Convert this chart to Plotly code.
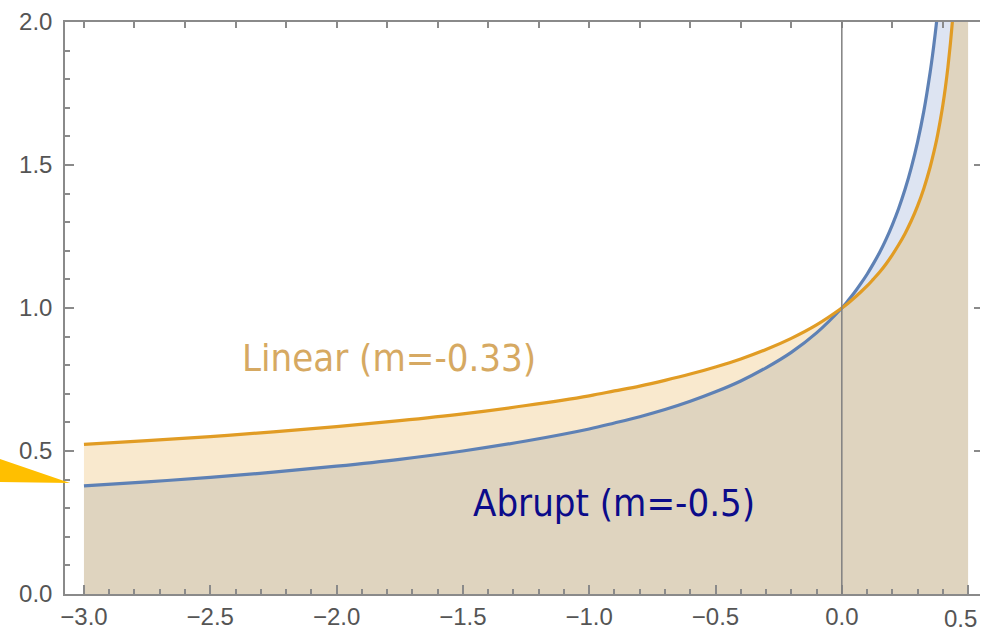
import plotly.graph_objects as go
import numpy as np

# sampled x positions
x = [-3.0, -2.75, -2.5, -2.25, -2.0, -1.75, -1.5, -1.25, -1.0, -0.9, -0.8, -0.7,
     -0.6, -0.5, -0.4, -0.3, -0.2, -0.1, 0.0, 0.025, 0.05, 0.075, 0.1, 0.125,
     0.15, 0.175, 0.2, 0.225, 0.25, 0.275, 0.3, 0.325, 0.35, 0.36, 0.37, 0.375,
     0.38, 0.39, 0.4, 0.41, 0.42, 0.43, 0.44, 0.45, 0.46, 0.47, 0.48, 0.49, 0.4999]

# Abrupt (m=-0.5)
abrupt = [0.378, 0.392, 0.408, 0.426, 0.447, 0.471, 0.5, 0.535, 0.577, 0.598, 0.620, 0.645,
          0.674, 0.707, 0.745, 0.791, 0.845, 0.913, 1.0, 1.026, 1.054, 1.085, 1.118, 1.155,
          1.195, 1.240, 1.291, 1.348, 1.414, 1.491, 1.581, 1.690, 1.826, 1.890, 1.961, 2.0,
          2.041, 2.132, 2.236, 2.357, 2.5, 2.673, 2.887, 3.162, 3.536, 4.082, 5.0, 7.071, 70.7]

# Linear (m=-0.33)
linear = [0.523, 0.536, 0.550, 0.567, 0.585, 0.606, 0.630, 0.659, 0.693, 0.710, 0.727, 0.747,
          0.769, 0.794, 0.822, 0.855, 0.894, 0.941, 1.0, 1.017, 1.036, 1.056, 1.077, 1.101,
          1.126, 1.154, 1.186, 1.221, 1.260, 1.305, 1.357, 1.419, 1.494, 1.529, 1.567, 1.587,
          1.609, 1.657, 1.710, 1.771, 1.842, 1.926, 2.027, 2.154, 2.321, 2.554, 2.924, 3.684, 17.1]

x_ticks = [-3.0, -2.5, -2.0, -1.5, -1.0, -0.5, 0.0, 0.5]
x_tick_labels = ["−3.0", "−2.5", "−2.0", "−1.5", "−1.0", "−0.5", "0.0", ""]
last_x_label = "0.5"  # drawn as an annotation so it stays inside the page
y_ticks = [0.0, 0.5, 1.0, 1.5, 2.0]
y_tick_labels = ["0.0", "0.5", "1.0", "1.5", "2.0"]

BLUE = "#5e81b5"
ORANGE = "#e19c24"
TAN = "#dfd4bf"
LIGHT_ORANGE = "#f9e9ce"
LIGHT_BLUE = "#dde4f2"

lower = list(np.minimum(np.array(abrupt), np.array(linear)))
n_line = len(x) - 1  # curves drawn up to the last finite sample

fig = go.Figure()
fig.add_trace(go.Scatter(x=x, y=lower, mode="lines", line=dict(width=0),
                         fill="tozeroy", fillcolor=TAN, hoverinfo="skip", showlegend=False))
fig.add_trace(go.Scatter(x=x, y=linear, mode="lines", line=dict(width=0),
                         fill="tonexty", fillcolor=LIGHT_ORANGE, hoverinfo="skip", showlegend=False))
fig.add_trace(go.Scatter(x=x, y=lower, mode="lines", line=dict(width=0),
                         hoverinfo="skip", showlegend=False))
fig.add_trace(go.Scatter(x=x, y=abrupt, mode="lines", line=dict(width=0),
                         fill="tonexty", fillcolor=LIGHT_BLUE, hoverinfo="skip", showlegend=False))
fig.add_trace(go.Scatter(x=x[:n_line], y=abrupt[:n_line], mode="lines",
                         line=dict(color=BLUE, width=3.2, shape="spline", smoothing=1),
                         name="Abrupt", showlegend=False))
fig.add_trace(go.Scatter(x=x[:n_line], y=linear[:n_line], mode="lines",
                         line=dict(color=ORANGE, width=3.2, shape="spline", smoothing=1),
                         name="Linear", showlegend=False))
# helper trace for top / right frame ticks
fig.add_trace(go.Scatter(x=[x[0]], y=[y_ticks[0]], xaxis="x2", yaxis="y2", mode="markers",
                         marker=dict(opacity=0), hoverinfo="skip", showlegend=False))

FRAME = "#8a8a8a"
tickfont = dict(family="Liberation Sans, Arial, sans-serif", size=24, color="#555555")
xr = [-3.075, 0.547]
yr = [0, 2]

fig.update_layout(
    width=981, height=629,
    margin=dict(l=65, r=1, t=22, b=35, autoexpand=False),
    paper_bgcolor="white", plot_bgcolor="white",
    xaxis=dict(range=xr, tickvals=x_ticks, ticktext=x_tick_labels, automargin=False,
               ticks="inside", ticklen=9, tickwidth=1.5, tickcolor=FRAME,
               showline=True, linecolor=FRAME, linewidth=1.5, mirror=True,
               showgrid=False, zeroline=False, tickfont=tickfont, ticklabelstandoff=0,
               ticklabeloverflow="allow",
               minor=dict(dtick=0.1, tick0=0, ticks="inside", ticklen=5.5, tickwidth=1.5, tickcolor=FRAME),
               layer="above traces"),
    yaxis=dict(range=yr, tickvals=y_ticks, ticktext=y_tick_labels, automargin=False,
               ticks="inside", ticklen=9, tickwidth=1.5, tickcolor=FRAME,
               showline=True, linecolor=FRAME, linewidth=1.5, mirror=False,
               showgrid=False, zeroline=False, tickfont=tickfont, ticklabelstandoff=6,
               ticklabeloverflow="allow",
               minor=dict(dtick=0.1, tick0=0, ticks="inside", ticklen=5.5, tickwidth=1.5, tickcolor=FRAME),
               layer="above traces"),
    xaxis2=dict(range=xr, overlaying="x", side="top", anchor="y2", dtick=0.2, tick0=0,
                automargin=False, ticks="inside", ticklen=6, tickwidth=1.5, tickcolor=FRAME,
                showticklabels=False, showline=False, showgrid=False, zeroline=False),
    yaxis2=dict(range=yr, overlaying="y", side="right", anchor="x2", dtick=0.5, tick0=0,
                automargin=False, ticks="inside", ticklen=6, tickwidth=1.5, tickcolor=FRAME,
                showticklabels=False, showline=False, showgrid=False, zeroline=False),
    shapes=[
        dict(type="line", xref="x", yref="paper", x0=0, x1=0, y0=0, y1=1,
             line=dict(color="#808080", width=1.5), layer="above"),
        dict(type="path", xref="paper", yref="y",
             path="M -0.0711,0.472 L 0.0055,0.388 L -0.0711,0.392 Z",
             fillcolor="#ffbf00", line=dict(width=0), layer="above"),
    ],
    annotations=[
        dict(x=-1.792, y=0.825, xref="x", yref="y", text="Linear (m=-0.33)", showarrow=False,
             font=dict(family="Tahoma, 'DejaVu Sans Condensed', 'DejaVu Sans', sans-serif", size=38, color="#d6a962")),
        dict(x=-0.903, y=0.318, xref="x", yref="y", text="Abrupt (m=-0.5)", showarrow=False,
             font=dict(family="Tahoma, 'DejaVu Sans Condensed', 'DejaVu Sans', sans-serif", size=38, color="#0b0b8a")),
        dict(x=0.998, y=0, xref="paper", yref="paper", text=last_x_label, showarrow=False,
             xanchor="right", yanchor="top", yshift=-10, borderpad=0,
             font=tickfont),
    ],
)

fig.write_html("out.html", config={"displayModeBar": False},
               post_script="document.body.style.margin='0';document.body.style.overflow='hidden';")
